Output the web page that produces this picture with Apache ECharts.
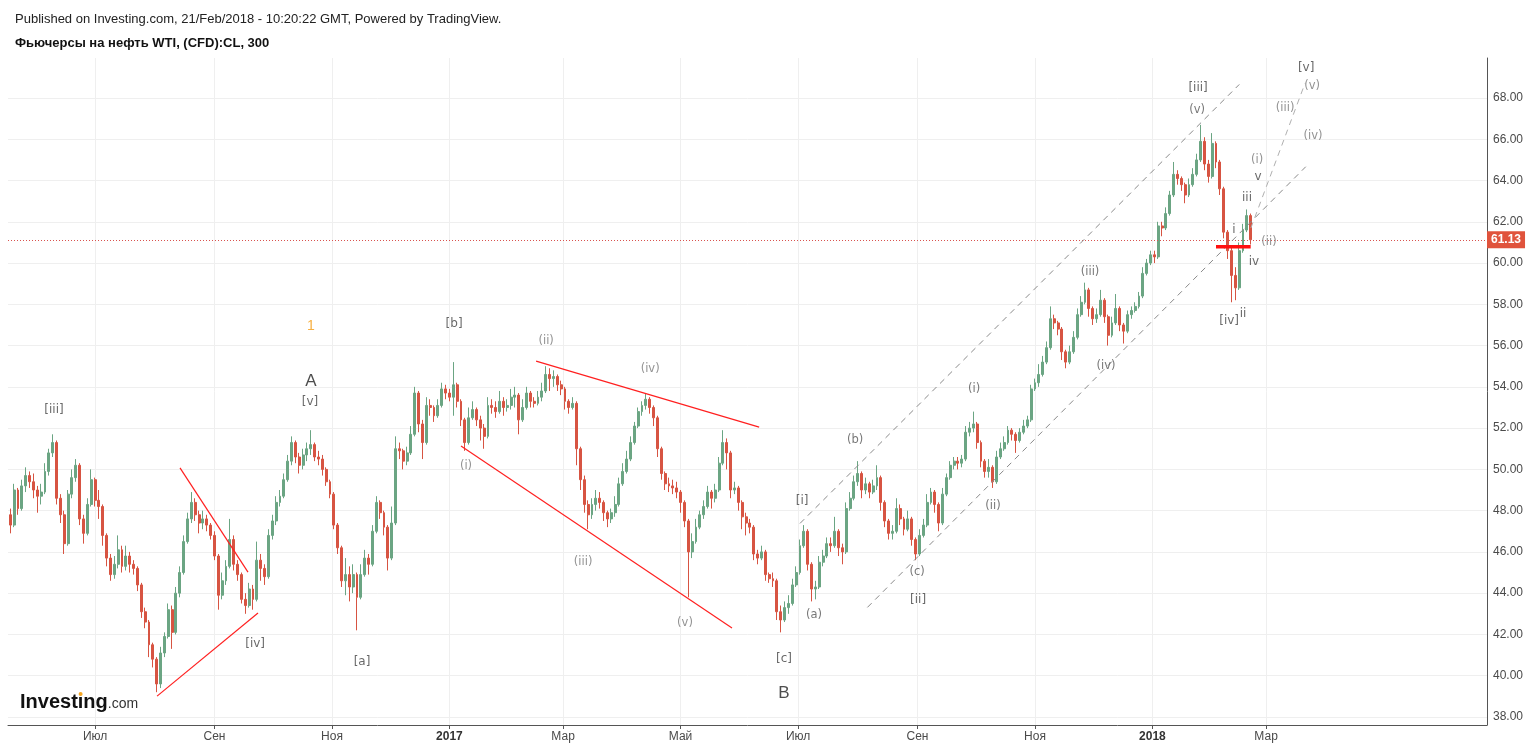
<!DOCTYPE html>
<html><head><meta charset="utf-8">
<script src="https://cdn.jsdelivr.net/npm/echarts@6/dist/echarts.min.js"></script>
<style>html,body{margin:0;padding:0;background:#fff}#c{width:1533px;height:749px}</style>
</head><body><div id="c"></div>
<script>
const DAY = 86400000;
const REF_DAY = Date.UTC(2016, 6, 1);          // annotation day offsets count from 2016-07-01
const CANDLE_START = Date.UTC(2016, 4, 18);   // first candle
const CANDLE_STEP_DAYS = 2;

// candles: [open, close, low, high]
const ohlc = [
[47.8,47.3,46.9,48.1],[47.3,49.0,47.2,49.3],[49.0,48.1,47.8,49.1],[48.1,49.2,48.0,49.5],[49.2,49.7,48.9,50.1],
[49.7,49.4,49.1,49.9],[49.4,49.0,48.6,49.8],[49.0,48.7,47.9,49.2],[48.7,48.9,48.3,49.3],[48.9,49.9,48.8,50.3],
[49.9,50.8,49.7,51.0],[50.8,51.3,50.6,51.7],[51.3,48.6,48.3,51.4],[48.6,47.8,47.4,48.8],[47.8,46.4,45.9,48.0],
[46.4,48.8,46.3,49.0],[48.8,49.6,48.6,50.0],[49.6,50.2,49.4,50.5],[50.2,47.6,47.3,50.3],[47.6,46.9,46.4,47.8],
[46.9,48.3,46.8,48.6],[48.3,49.5,48.2,50.0],[49.5,48.5,48.2,49.6],[48.5,48.2,47.6,49.0],[48.2,46.8,46.3,48.3],
[46.8,45.7,45.3,46.9],[45.7,44.9,44.6,45.9],[44.9,45.4,44.7,45.8],[45.4,46.1,45.2,46.8],[46.1,45.3,45.0,46.3],
[45.3,45.8,45.1,46.3],[45.8,45.4,45.0,46.0],[45.4,45.2,44.9,45.6],[45.2,44.4,44.1,45.3],[44.4,43.1,42.8,44.5],
[43.1,42.6,42.3,43.3],[42.6,41.5,40.9,42.7],[41.5,40.8,40.4,41.6],[40.8,39.6,39.2,40.9],[39.6,41.1,39.4,41.4],
[41.1,41.9,40.9,42.1],[41.9,43.2,41.8,43.5],[43.2,42.1,41.3,43.4],[42.1,44.0,42.0,44.3],[44.0,45.0,43.8,45.3],
[45.0,46.5,44.9,46.8],[46.5,47.6,46.4,47.9],[47.6,48.4,47.4,48.9],[48.4,47.8,47.5,48.6],[47.8,47.4,46.9,48.0],
[47.4,47.6,47.1,48.0],[47.6,47.3,47.0,47.8],[47.3,46.8,46.6,47.4],[46.8,45.8,45.6,47.0],[45.8,43.9,43.2,45.9],
[43.9,44.6,43.7,45.0],[44.6,45.3,44.4,45.6],[45.3,46.6,45.2,47.6],[46.6,45.4,45.1,46.8],[45.4,44.9,44.6,45.6],
[44.9,43.7,43.5,45.0],[43.7,43.4,43.0,44.0],[43.4,44.2,43.3,44.5],[44.2,43.7,43.2,44.4],[43.7,45.6,43.6,46.5],
[45.6,45.2,44.6,45.9],[45.2,44.8,44.4,45.4],[44.8,46.8,44.7,47.1],[46.8,47.5,46.6,47.8],[47.5,48.4,47.3,48.7],
[48.4,48.7,48.2,49.0],[48.7,49.5,48.6,49.8],[49.5,50.4,49.4,50.7],[50.4,51.3,50.2,51.6],[51.3,50.6,50.3,51.4],
[50.6,50.2,49.8,50.8],[50.2,50.7,50.0,51.0],[50.7,51.0,50.4,51.3],[51.0,51.2,50.7,51.9],[51.2,50.6,50.4,51.3],
[50.6,50.5,50.2,50.9],[50.5,50.0,49.7,50.7],[50.0,49.4,49.2,50.1],[49.4,48.8,48.6,49.5],[48.8,47.3,47.1,48.9],
[47.3,46.2,45.9,47.4],[46.2,44.6,44.3,46.3],[44.6,44.9,43.9,45.7],[44.9,44.3,43.6,45.3],[44.3,44.9,44.0,45.4],
[44.9,43.8,42.2,45.0],[43.8,44.9,43.7,45.4],[44.9,45.7,44.8,46.1],[45.7,45.4,44.9,45.9],[45.4,47.0,45.3,47.3],
[47.0,48.4,46.9,48.7],[48.4,47.9,47.6,48.5],[47.9,47.2,46.8,48.0],[47.2,45.7,45.1,47.3],[45.7,47.4,45.6,48.2],
[47.4,51.0,47.3,51.6],[51.0,50.9,50.5,51.3],[50.9,50.4,50.0,51.0],[50.4,50.8,50.2,51.1],[50.8,51.7,50.7,52.1],
[51.7,53.7,51.6,54.0],[53.7,52.2,51.8,53.8],[52.2,51.3,50.5,52.4],[51.3,53.1,51.2,53.5],[53.1,53.0,52.6,53.4],
[53.0,52.6,52.3,53.1],[52.6,53.1,52.5,53.4],[53.1,53.9,53.0,54.2],[53.9,53.7,53.4,54.1],[53.7,53.5,53.3,53.9],
[53.5,54.1,52.6,55.2],[54.1,53.3,53.0,54.2],[53.3,52.4,52.1,53.4],[52.4,51.3,50.9,52.5],[51.3,52.5,51.2,53.0],
[52.5,52.9,52.4,53.3],[52.9,52.4,52.1,53.0],[52.4,52.0,51.4,52.6],[52.0,51.6,51.0,52.2],[51.6,53.1,51.5,53.5],
[53.1,53.0,52.7,53.4],[53.0,52.8,52.5,53.3],[52.8,53.3,52.7,53.8],[53.3,53.0,52.6,53.5],[53.0,53.1,52.8,53.4],
[53.1,53.5,52.9,53.9],[53.5,53.6,53.0,54.0],[53.6,52.4,51.7,53.7],[52.4,53.0,52.3,53.4],[53.0,53.7,52.9,54.0],
[53.7,53.3,53.0,53.8],[53.3,53.2,53.0,53.5],[53.2,53.5,53.1,53.8],[53.5,53.8,53.3,54.2],[53.8,54.6,53.7,55.0],
[54.6,54.4,53.8,54.9],[54.4,54.5,54.0,54.8],[54.5,54.1,53.8,54.6],[54.1,53.9,53.6,54.3],[53.9,53.3,52.9,54.0],
[53.3,53.0,52.7,53.4],[53.0,53.2,52.9,53.5],[53.2,51.0,50.2,53.3],[51.0,49.5,49.0,51.1],[49.5,48.3,47.9,49.7],
[48.3,47.8,47.1,48.5],[47.8,48.3,47.6,48.6],[48.3,48.6,48.0,49.0],[48.6,48.4,48.1,48.9],[48.4,47.9,47.5,48.5],
[47.9,47.6,47.2,48.0],[47.6,47.9,47.4,48.1],[47.9,48.3,47.7,48.7],[48.3,49.3,48.2,49.6],[49.3,49.9,49.2,50.3],
[49.9,50.5,49.8,50.9],[50.5,51.3,50.4,51.6],[51.3,52.1,51.2,52.3],[52.1,52.8,52.0,53.0],[52.8,53.1,52.6,53.3],
[53.1,53.4,52.9,53.7],[53.4,53.0,52.7,53.5],[53.0,52.5,52.1,53.1],[52.5,51.0,50.6,52.6],[51.0,49.8,49.5,51.1],
[49.8,49.3,49.0,49.9],[49.3,49.2,48.9,49.6],[49.2,49.1,48.8,49.5],[49.1,48.9,48.6,49.4],[48.9,48.4,47.9,49.0],
[48.4,47.5,47.2,48.5],[47.5,46.0,43.8,47.6],[46.0,46.5,45.7,46.9],[46.5,47.2,46.4,47.6],[47.2,47.8,47.1,48.0],
[47.8,48.2,47.6,48.5],[48.2,48.9,48.1,49.2],[48.9,48.6,48.1,49.0],[48.6,49.0,48.4,49.3],[49.0,50.3,48.9,50.6],
[50.3,51.3,50.2,51.9],[51.3,50.8,50.0,51.5],[50.8,49.0,48.6,50.9],[49.0,49.1,48.8,49.4],[49.1,48.4,48.0,49.2],
[48.4,47.7,47.1,48.5],[47.7,47.4,46.8,47.9],[47.4,47.2,46.9,47.6],[47.2,45.9,45.6,47.3],[45.9,45.7,45.4,46.1],
[45.7,46.0,45.6,46.3],[46.0,44.9,44.6,46.1],[44.9,44.7,44.5,45.0],[44.7,44.6,44.3,45.0],[44.6,43.1,42.7,44.7],
[43.1,42.7,42.1,43.4],[42.7,43.3,42.6,43.6],[43.3,43.5,43.0,43.9],[43.5,44.4,43.4,44.7],[44.4,45.0,44.3,45.3],
[45.0,46.3,44.9,46.6],[46.3,47.0,46.2,47.3],[47.0,45.4,45.1,47.1],[45.4,44.2,43.6,45.5],[44.2,44.3,43.7,44.6],
[44.3,45.5,44.2,45.8],[45.5,45.8,45.3,46.1],[45.8,46.4,45.7,46.7],[46.4,46.3,46.0,46.7],[46.3,47.0,46.2,47.7],
[47.0,46.2,45.8,47.1],[46.2,46.0,45.4,46.4],[46.0,48.1,45.9,48.4],[48.1,48.6,48.0,48.9],[48.6,49.4,48.5,49.7],
[49.4,49.8,49.2,50.4],[49.8,49.0,48.6,49.9],[49.0,49.3,48.8,49.6],[49.3,48.9,48.6,49.4],[48.9,49.2,48.8,49.5],
[49.2,49.6,49.0,50.2],[49.6,48.4,48.0,49.7],[48.4,47.5,47.2,48.5],[47.5,46.9,46.6,47.6],[46.9,47.0,46.6,47.3],
[47.0,48.1,46.9,48.6],[48.1,47.6,47.3,48.3],[47.6,47.1,46.8,47.7],[47.1,47.6,47.0,48.0],[47.6,46.6,46.3,47.7],
[46.6,45.9,45.6,46.7],[45.9,46.8,45.8,47.1],[46.8,47.3,46.7,47.6],[47.3,48.4,47.2,48.8],[48.4,48.9,48.3,49.1],
[48.9,48.3,47.9,49.0],[48.3,47.4,47.0,48.4],[47.4,48.8,47.3,49.1],[48.8,49.6,48.7,49.8],[49.6,50.2,49.5,50.4],
[50.2,50.4,50.0,50.6],[50.4,50.3,50.0,50.6],[50.3,50.5,50.1,50.7],[50.5,51.8,50.4,52.1],[51.8,52.0,51.6,52.3],
[52.0,52.2,51.8,52.8],[52.2,51.3,51.0,52.3],[51.3,50.4,50.1,51.4],[50.4,49.9,49.6,50.5],[49.9,50.1,49.6,50.5],
[50.1,49.4,49.1,50.2],[49.4,50.6,49.3,50.9],[50.6,51.0,50.5,51.3],[51.0,51.3,50.9,51.6],[51.3,51.9,51.2,52.1],
[51.9,51.7,51.4,52.0],[51.7,51.4,50.8,51.8],[51.4,51.8,51.3,52.0],[51.8,52.1,51.7,52.4],[52.1,52.4,52.0,52.6],
[52.4,53.9,52.3,54.1],[53.9,54.2,53.8,54.4],[54.2,54.6,54.0,55.1],[54.6,55.2,54.5,55.5],[55.2,55.9,55.1,56.2],
[55.9,57.3,55.8,57.9],[57.3,57.1,56.8,57.5],[57.1,56.8,56.5,57.2],[56.8,55.7,55.3,56.9],[55.7,55.2,54.9,55.8],
[55.2,55.7,55.1,56.0],[55.7,56.4,55.6,56.7],[56.4,57.5,56.3,57.8],[57.5,58.1,57.4,58.4],[58.1,58.7,58.0,59.05],
[58.7,57.8,57.4,58.8],[57.8,57.3,57.0,57.9],[57.3,57.5,57.1,57.8],[57.5,58.2,57.4,58.7],[58.2,57.4,57.1,58.3],
[57.4,56.5,56.0,57.5],[56.5,57.1,56.4,57.4],[57.1,57.8,57.0,58.5],[57.8,57.0,56.7,57.9],[57.0,56.7,56.1,57.1],
[56.7,57.5,56.6,57.7],[57.5,57.7,57.3,57.9],[57.7,57.9,57.6,58.1],[57.9,58.4,57.8,58.6],[58.4,59.5,58.3,59.8],
[59.5,60.0,59.4,60.2],[60.0,60.4,59.9,60.6],[60.4,60.3,60.0,60.6],[60.3,61.8,60.2,62.0],[61.8,61.7,61.3,62.0],
[61.7,62.4,61.6,62.7],[62.4,63.3,62.3,63.5],[63.3,64.3,63.2,64.9],[64.3,64.1,63.8,64.5],[64.1,63.8,63.5,64.2],
[63.8,63.3,62.9,63.9],[63.3,63.8,63.2,64.1],[63.8,64.3,63.7,64.6],[64.3,65.0,64.2,65.3],[65.0,65.9,64.9,66.7],
[65.9,64.8,64.5,66.1],[64.8,64.2,63.9,65.0],[64.2,65.8,64.1,66.3],[65.8,64.9,64.6,65.9],[64.9,63.6,63.3,65.0],
[63.6,61.5,61.2,63.7],[61.5,60.6,60.2,61.6],[60.6,59.4,58.1,60.8],[59.4,58.8,58.2,59.8],[58.8,60.6,58.7,61.0],
[60.6,61.6,60.5,61.9],[61.6,62.3,61.5,62.6],[62.3,61.13,60.9,62.4]
];

const monthTicks = ['2016-07-01','2016-09-01','2016-11-01','2017-01-01','2017-03-01','2017-05-01','2017-07-01','2017-09-01','2017-11-01','2018-01-01','2018-03-01'];
const monthTickLabels = ['Июл','Сен','Ноя','2017','Мар','Май','Июл','Сен','Ноя','2018','Мар'];
const priceTicks = [38,40,42,44,46,48,50,52,54,56,58,60,62,64,66,68];

// annotations: [day offset from 2016-07-01, price, text]
const bracketLabels = [[-21.3,52.88,'[iii]'],[83.1,41.53,'[iv]'],[111.6,53.26,'[v]'],[138.6,40.66,'[a]'],[186.4,57.05,'[b]'],[357.7,40.81,'[c]'],[367.1,48.47,'[i]'],[427.3,43.67,'[ii]'],[572.7,68.48,'[iii]'],[588.8,57.19,'[iv]'],[628.8,69.45,'[v]']];
const parenLightLabels = [[192.6,50.16,'(i)'],[234.2,56.22,'(ii)'],[253.4,45.51,'(iii)'],[288.2,54.86,'(iv)'],[306.3,42.55,'(v)'],[603.3,64.99,'(i)'],[609.5,61.02,'(ii)'],[617.9,67.52,'(iii)'],[632.4,66.16,'(iv)'],[631.9,68.58,'(v)']];
const parenDarkLabels = [[373.3,42.94,'(a)'],[394.6,51.42,'(b)'],[426.8,45.02,'(c)'],[456.4,53.89,'(i)'],[466.2,48.22,'(ii)'],[516.6,59.57,'(iii)'],[524.9,55.01,'(iv)'],[572.2,67.42,'(v)']];
const smallLabels = [[591.3,61.6,'i'],[596.0,57.53,'ii'],[598.1,63.15,'iii'],[601.7,60.05,'iv'],[603.8,64.17,'v']];
const bigLabels = [[112.1,54.28,'A'],[357.7,39.16,'B']];
const waveLabels = [[112.1,56.95,'1']];

// trend lines: [[day, price],[day, price]]
const redLines = [[[44.1,50.07],[79.4,45.02]],[[32.2,39.01],[84.6,43.04]],[[190.0,51.13],[330.7,42.31]],[[229.0,55.25],[344.8,52.05]]];
const thickRedLine = [[582.0,60.79],[600.0,60.79]];
const channelLines = [[[366.0,47.38],[594.1,68.66]],[[401.0,43.31],[628.6,64.67]]];
const steepLine = [[600.1,61.7],[628.2,68.71]];

const X_MIN_DAY = -45.2, X_MAX_DAY = 722.7;
const Y_MIN = 37.61, Y_MAX = 69.94;

const UP = '#6ba583', DOWN = '#d75442';
const dayTs = d => REF_DAY + d * DAY;
const utc = s => { const p = s.split('-').map(Number); return Date.UTC(p[0], p[1]-1, p[2]); };
const tickMs = monthTicks.map(utc);
const candleData = ohlc.map((r, i) => [CANDLE_START + i * CANDLE_STEP_DAYS * DAY, r[0], r[1], r[2], r[3]]);
const lastClose = ohlc[ohlc.length - 1][1];

function labelFmt(v) {
  let best = 0, bd = Infinity;
  tickMs.forEach((t, i) => { const d = Math.abs(t - v); if (d < bd) { bd = d; best = i; } });
  const s = monthTickLabels[best];
  return /^\d{4}$/.test(s) ? '{b|' + s + '}' : s;
}

function textSeries(arr, color, size, family, weight) {
  return {
    type: 'scatter', symbol: 'circle', symbolSize: 2, silent: true, z: 10,
    itemStyle: { color: 'rgba(0,0,0,0)' },
    data: arr.map(a => ({ value: [dayTs(a[0]), a[1]], name: a[2] })),
    label: { show: true, position: 'inside', formatter: p => p.name, color: color, fontSize: size, fontFamily: family, fontWeight: weight || 'normal' }
  };
}
function lineSeries(pts, color, width, type, z) {
  return { type: 'line', silent: true, symbol: 'none', z: z || 5, animation: false,
    data: pts.map(p => [dayTs(p[0]), p[1]]),
    lineStyle: { color: color, width: width, type: type } };
}

const series = [{
  type: 'candlestick', data: candleData, encode: { x: 0, y: [1, 2, 3, 4] }, barWidth: 2.4,
  itemStyle: { color: UP, color0: DOWN, borderColor: UP, borderColor0: DOWN, borderWidth: 1 },
  markLine: {
    silent: true, symbol: ['none', 'none'], animation: false,
    lineStyle: { color: '#d9534f', type: [1, 2], width: 1 },
    label: { show: true, position: 'end', distance: 0, formatter: () => lastClose.toFixed(2), backgroundColor: '#e0533c', color: '#fff', fontWeight: 'bold', fontSize: 12, fontFamily: 'Liberation Sans, Arial', padding: [3, 4, 2, 4] },
    data: [{ yAxis: lastClose }]
  }
}];
redLines.forEach(l => series.push(lineSeries(l, '#ff2020', 1.2, 'solid', 6)));
series.push(lineSeries(thickRedLine, '#ff1010', 3.5, 'solid', 7));
channelLines.forEach(l => series.push(lineSeries(l, '#8a8a8a', 1, [6, 5], 6)));
series.push(lineSeries(steepLine, '#b0b0b0', 1, [6, 5], 6));
series.push(textSeries(bracketLabels, '#444', 12, 'DejaVu Sans'));
series.push(textSeries(parenLightLabels, '#777', 11.5, 'DejaVu Sans'));
series.push(textSeries(parenDarkLabels, '#555', 11.5, 'DejaVu Sans'));
series.push(textSeries(smallLabels, '#444', 12, 'DejaVu Sans'));
series.push(textSeries(bigLabels, '#222', 17, 'Liberation Sans, Arial'));
series.push(textSeries(waveLabels, '#f59b12', 14, 'Liberation Sans, Arial'));

const chart = echarts.init(document.getElementById('c'));
chart.setOption({
  animation: false,
  backgroundColor: '#fff',
  title: [
    { text: 'Published on Investing.com, 21/Feb/2018 - 10:20:22 GMT, Powered by TradingView.', left: 10, top: 8, textStyle: { fontSize: 13, fontWeight: 'normal', color: '#222', fontFamily: 'Liberation Sans, Arial' } },
    { text: 'Фьючерсы на нефть WTI, (CFD):CL, 300', left: 10, top: 32, textStyle: { fontSize: 13, fontWeight: 'bold', color: '#111', fontFamily: 'Liberation Sans, Arial' } }
  ],
  graphic: [{
    type: 'text', left: 20, top: 692,
    style: { text: '{a|Investing}{b|.com}', rich: {
      a: { fontSize: 20, fontWeight: 'bold', fill: '#111', fontFamily: 'Liberation Sans, Arial' },
      b: { fontSize: 14, fill: '#333', fontFamily: 'Liberation Sans, Arial', padding: [4, 0, 0, 0] } } }
  }, {
    type: 'circle', left: 78.6, top: 692, shape: { r: 2 }, style: { fill: '#f5a623' }, z: 100
  }],
  grid: { left: 8, right: 46, top: 58, bottom: 24 },
  xAxis: {
    type: 'value', min: dayTs(X_MIN_DAY), max: dayTs(X_MAX_DAY),
    axisLine: { lineStyle: { color: '#555', width: 1 } },
    axisTick: { show: true, length: 4, customValues: tickMs, lineStyle: { color: '#555' } },
    axisLabel: { customValues: tickMs, formatter: labelFmt, color: '#4a4a4a', fontSize: 12, margin: 6, fontFamily: 'Liberation Sans, Arial',
      rich: { b: { fontWeight: 'bold', color: '#333', fontSize: 12, fontFamily: 'Liberation Sans, Arial' } } },
    splitLine: { show: true, lineStyle: { color: '#efefef', width: 1 } }
  },
  yAxis: {
    type: 'value', position: 'right', min: Y_MIN, max: Y_MAX, scale: true,
    axisLine: { show: true, lineStyle: { color: '#555', width: 1 } },
    axisTick: { show: false, customValues: priceTicks },
    axisLabel: { customValues: priceTicks, formatter: v => v.toFixed(2), color: '#4a4a4a', fontSize: 12, margin: 6, fontFamily: 'Liberation Sans, Arial' },
    splitLine: { show: true, lineStyle: { color: '#efefef', width: 1 } }
  },
  series: series
});
</script></body></html>
